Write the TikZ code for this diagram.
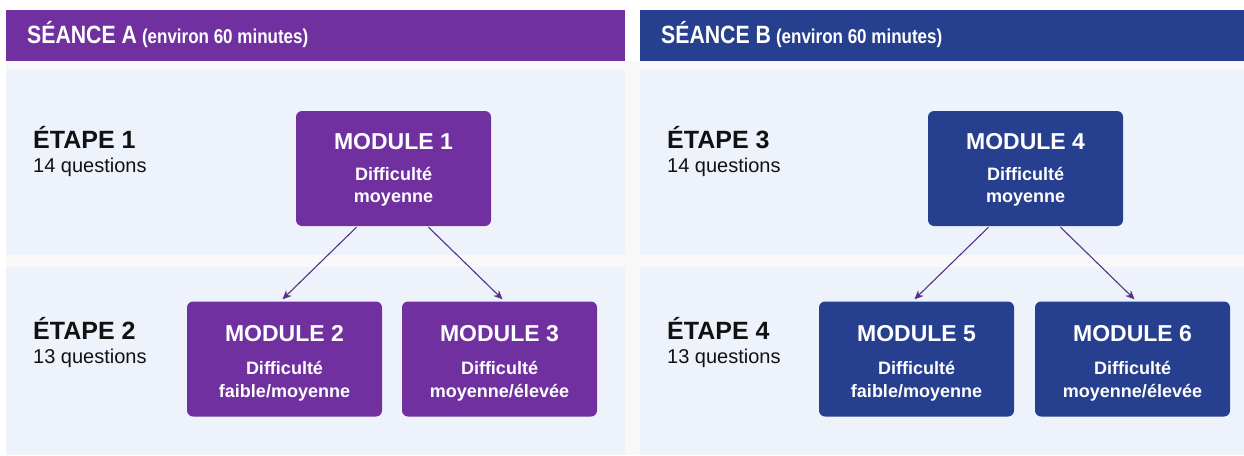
\documentclass[tikz,border=0pt]{standalone}
\usepackage{fontspec}
\setmainfont{Liberation Sans}
\newfontfamily\hdrfont[FakeStretch=0.85]{Liberation Sans}
\usetikzlibrary{arrows.meta,calc}
\definecolor{purp}{HTML}{7030A0}
\definecolor{bleu}{HTML}{273F8F}
\definecolor{panel}{HTML}{EEF3FB}
\definecolor{gap}{HTML}{F9F8F8}
\definecolor{arr}{HTML}{553285}
\definecolor{ink}{HTML}{111111}
\tikzset{
  hdr/.style={anchor=base west,inner sep=0pt,text=white,font=\hdrfont\bfseries},
  modbox/.style={rectangle,rounded corners=6pt,minimum width=195pt,minimum height=115pt,inner sep=0pt},
  modtitle/.style={anchor=base,inner sep=0pt,text=white,font=\fontsize{23}{23}\selectfont\bfseries},
  modsub/.style={anchor=base,inner sep=0pt,text=white,font=\fontsize{18}{18}\selectfont\bfseries},
  etape/.style={anchor=base west,inner sep=0pt,text=ink,font=\fontsize{25}{25}\selectfont\bfseries},
  qst/.style={anchor=base west,inner sep=0pt,text=ink,font=\fontsize{20}{20}\selectfont},
  link/.style={draw=arr,line width=1.1pt,-{Stealth[length=9pt,width=8pt]}}
}
\begin{document}
\begin{tikzpicture}[x=1pt,y=-1pt]
\useasboundingbox (0,0) rectangle (1244,455);
\fill[white] (0,0) rectangle (1244,455);
\fill[gap] (6,61) rectangle (1244,455);
% panels
\fill[panel] (6,70) rectangle (625,255);
\fill[panel] (6,267) rectangle (625,455);
\fill[panel] (640,70) rectangle (1244,255);
\fill[panel] (640,267) rectangle (1244,455);
% headers
\fill[purp] (6,10) rectangle (625,61);
\fill[bleu] (640,10) rectangle (1244,61);
\node[hdr] (hA) at (27,43) {{\fontsize{25}{25}\selectfont SÉANCE A}\hspace{5pt}{\fontsize{20}{20}\selectfont (environ 60 minutes)}};
\node[hdr] (hB) at (661,43) {{\fontsize{25}{25}\selectfont SÉANCE B}\hspace{5pt}{\fontsize{20}{20}\selectfont (environ 60 minutes)}};
% step labels
\node[etape] (e1) at (33,148) {ÉTAPE 1};
\node[qst] (q1) at (33,172) {14 questions};
\node[etape] (e2) at (33,339) {ÉTAPE 2};
\node[qst] (q2) at (33,363) {13 questions};
\node[etape] (e3) at (667,148) {ÉTAPE 3};
\node[qst] (q3) at (667,172) {14 questions};
\node[etape] (e4) at (667,339) {ÉTAPE 4};
\node[qst] (q4) at (667,363) {13 questions};
% modules session A
\node[modbox,fill=purp] (m1) at (393.5,168.5) {};
\node[modbox,fill=purp] (m2) at (284.5,359) {};
\node[modbox,fill=purp] (m3) at (499.5,359) {};
% modules session B
\node[modbox,fill=bleu] (m4) at (1025.5,168.5) {};
\node[modbox,fill=bleu] (m5) at (916.5,359) {};
\node[modbox,fill=bleu] (m6) at (1132.5,359) {};
% module texts
\foreach \m/\n/\a/\b in {m1/1/Difficulté/moyenne, m4/4/Difficulté/moyenne}{
  \node[modtitle] (\m t) at ($(\m.north)+(0,39)$) {MODULE \n};
  \node[modsub] (\m a) at ($(\m.north)+(0,70)$) {\a};
  \node[modsub] (\m b) at ($(\m.north)+(0,92)$) {\b};
}
\foreach \m/\n/\b in {m2/2/faible\slash moyenne, m3/3/moyenne\slash élevée, m5/5/faible\slash moyenne, m6/6/moyenne\slash élevée}{
  \node[modtitle] (\m t) at ($(\m.north)+(0,40)$) {MODULE \n};
  \node[modsub] (\m a) at ($(\m.north)+(0,73)$) {Difficulté};
  \node[modsub] (\m b) at ($(\m.north)+(0,96)$) {\b};
}
% connectors
\draw[link] ($(m1.south)+(-37,1)$) -- ($(m2.north)+(-2,-2)$);
\draw[link] ($(m1.south)+(35,1)$) -- ($(m3.north)+(3,-2)$);
\draw[link] ($(m4.south)+(-37,1)$) -- ($(m5.north)+(-2,-2)$);
\draw[link] ($(m4.south)+(35,1)$) -- ($(m6.north)+(2,-2)$);
\end{tikzpicture}
\end{document}
